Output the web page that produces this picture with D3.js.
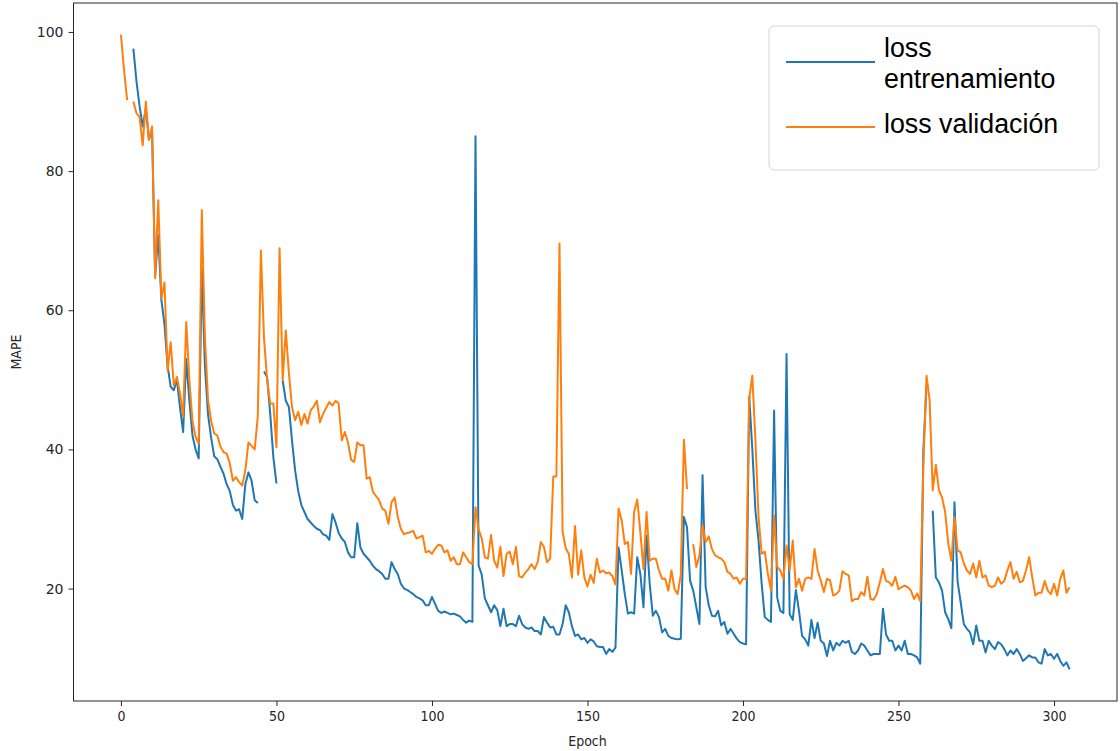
<html>
<head>
<script src="https://d3js.org/d3.v7.min.js"></script>
<style>
  body { margin: 0; background: #fff; }
  .tick text { font-family: "DejaVu Sans", sans-serif; font-size: 14px; fill: #262626; }
  .tick line { stroke: #262626; }
  .x.axis .tick text { font-stretch: condensed; }
</style>
</head>
<body>
<svg id="chart" width="1120" height="751"></svg>
<script>
// training loss per epoch (null = missing value, line breaks there)
const trainLoss = [
  null,null,null,null,97.6,92.9,89.3,86.4,89,84.5,
  86,65,70.8,61.5,58,52,49,48.5,50,46,
  42.5,53,47,42,40,38.7,66,52,45,41.7,
  39,38.6,37.5,36.5,35,34,32,31.2,31.4,30,
  35,36.7,35.5,32.7,32.3,null,51.2,50.4,45.1,38.9,
  35.1,null,49.9,47,46.1,41.3,37,34,32,31,
  30,29.5,29,28.6,28.4,27.8,27.6,27,30.7,29.5,
  28,27.2,26.7,25.2,24.5,24.5,29.4,25.9,25,24.5,
  24,23.3,22.8,22.5,22.1,21.4,21.4,23.8,22.8,22.1,
  20.7,20,19.8,19.5,19.2,18.8,18.6,18.3,17.6,17.6,
  18.8,17.8,16.8,16.5,16.7,16.5,16.3,16.4,16.2,16,
  15.5,15.1,15.4,15.2,85,23.3,22,18.6,17.6,16.6,
  17.6,16.9,14.6,17.1,14.6,14.9,14.9,14.6,16.1,14.9,
  14.4,14.2,14.4,13.9,13.9,13.4,15.9,15.1,14.4,14.5,
  13.4,13.4,14.9,17.6,16.6,14.6,13.2,13.4,12.7,12.9,
  12.2,12.7,12.4,11.7,11.6,11.6,10.6,11.3,10.9,11.5,
  25.9,22.6,19.2,16.4,16.6,16.4,24.5,22.1,17.3,27.6,
  20.7,16.1,16.8,15.9,13.7,14.2,13.2,12.9,12.8,12.7,
  12.8,30.3,28.8,21.1,19.7,17.3,14.9,36.3,20.2,17.6,
  16.1,16.0,16.8,14.7,15.2,13.5,14.2,13.5,12.8,12.3,
  12.1,12.0,47.6,40,31.2,26.9,20.7,15.9,15.5,15.2,
  45.6,18.7,16.8,16.5,53.7,16.3,15.5,19.8,16.8,13.2,
  12.7,11.8,15.5,12.9,15.1,12.5,12.1,10.3,12.5,11.1,
  12.2,11.8,12.5,12.2,12.5,10.9,10.6,11.1,12.1,11.8,
  11.1,10.4,10.6,10.6,10.6,17.1,13.4,12.5,12.5,11.1,
  11.8,11.1,12.5,10.6,10.6,10.4,10.1,9.2,40,49,
  null,31.2,21.6,20.9,19.7,16.6,15.6,14.3,32.4,21,
  18,14.9,14.2,13.7,12.0,14.7,12.5,12.5,10.8,12.5,
  11.8,11.3,12.3,12.0,11.3,10.4,11.1,10.6,11.3,10.6,
  9.6,10.0,10.4,10.1,10.1,9.4,9.2,11.3,10.4,10.6,
  9.9,10.6,9.6,8.9,9.4,8.4
];

// validation loss per epoch
const valLoss = [
  99.6,94.5,90.2,null,90.0,88.3,87.8,83.7,90.0,84.5,
  86.4,64.6,75.8,61.7,64.0,51.3,55.4,49.2,50.4,48.0,
  44.7,58.3,49.9,44.1,41.8,40.8,74.4,56.2,47.1,44.1,
  42.3,42.0,40.4,39.6,39.4,38.0,35.5,36.0,35.3,34.8,
  37.0,41.0,40.5,40.0,44.7,68.6,56.0,50.0,46.6,46.6,
  40.3,68.9,50.0,57.1,51.0,46.1,44.2,45.4,43.5,45.1,
  43.7,45.6,46.2,47.0,43.9,45.1,46.0,46.8,46.3,47.0,
  46.6,41.3,42.5,41.0,38.5,38.2,41.0,40.6,40.6,35.8,
  36.0,33.9,33.3,32.7,31.5,31.2,29.3,32.4,33.1,30.3,
  28.6,27.8,28.0,28.1,28.3,27.2,27.4,27.6,25.2,25.4,
  25.0,25.7,26.3,26.2,25.2,25.5,24.0,24.5,23.5,23.5,
  25.2,24.5,23.8,23.5,31.7,28.5,27.2,24.5,24.3,27.7,
  24.0,23.0,26.0,21.8,25.0,25.3,23.5,26.0,21.8,21.6,
  22.3,22.8,23.5,22.8,23.8,26.7,26.0,23.8,24.3,36.1,
  36.1,69.6,28.2,25.8,25.0,21.6,29.0,22.0,25.5,21.6,
  20.3,22.0,20.8,24.3,22.3,22.6,22.2,22.3,21.8,20.6,
  31.5,29.8,26.4,26.7,22.1,31.0,32.8,28.1,22.8,31.0,
  24.0,24.3,24.3,22.6,21.4,21.4,19.7,22.6,19.9,19.2,
  22.0,41.4,34.3,null,26.4,23.1,24.8,29.1,26.7,27.5,
  25.7,24.8,24.5,24.3,23.8,22.4,22.1,21.4,21.6,20.7,
  21.4,21.4,47.3,50.6,41.3,30.3,25.0,25.3,22.1,19.7,
  30.5,23.1,22.6,21.4,26.2,22.6,26.9,20.2,21.4,19.7,
  21.4,21.6,21.4,25.7,22.6,21.2,19.5,21.4,21.2,19.0,
  19.2,19.7,22.5,22.1,21.9,18.2,18.5,18.5,19.5,19.0,
  21.7,18.5,18.4,19.2,20.9,22.8,21.1,20.9,20.4,21.7,
  19.9,20.2,20.4,20.2,19.7,18.5,19.3,18.2,38.0,50.6,
  47.1,34.1,37.8,34.1,33.1,31.0,26.5,24.0,30.3,25.5,
  25.2,23.6,22.6,22.1,23.6,21.6,24.0,21.6,21.9,20.4,
  20.2,20.4,21.6,20.7,21.1,22.6,23.8,21.4,22.4,20.9,
  21.1,22.6,24.5,21.6,19.0,19.4,19.4,21.1,19.7,19.2,
  20.7,19.0,21.4,22.6,19.4,20.2
];

const epochs = d3.range(trainLoss.length);
const xTicks = [0, 50, 100, 150, 200, 250, 300];
const yTicks = [20, 40, 60, 80, 100];
const seriesNames = ["loss\nentrenamiento", "loss validación"];
const seriesColors = ["#1f77b4", "#ff7f0e"];

const svg = d3.select("#chart");
const width = +svg.attr("width");
const height = +svg.attr("height");
const margin = { top: 3, right: 3, bottom: 50, left: 73.5 };
const chartWidth = width - margin.left - margin.right;
const chartHeight = height - margin.top - margin.bottom;

// matplotlib style 5% padding on both axes
const xExt = d3.extent(epochs);
const xPad = (xExt[1] - xExt[0]) * 0.05;
const allVals = trainLoss.concat(valLoss).filter(v => v != null);
const yExt = d3.extent(allVals);
const yPad = (yExt[1] - yExt[0]) * 0.05;

const xScale = d3.scaleLinear().domain([xExt[0] - xPad, xExt[1] + xPad]).range([0, chartWidth]);
const yScale = d3.scaleLinear().domain([yExt[0] - yPad, yExt[1] + yPad]).range([chartHeight, 0]);

const g = svg.append("g").attr("transform", `translate(${margin.left},${margin.top})`);

const line = d3.line()
  .defined(d => d[1] != null)
  .x(d => xScale(d[0]))
  .y(d => yScale(d[1]));

[trainLoss, valLoss].forEach((series, i) => {
  g.append("path")
    .datum(epochs.map(e => [e, series[e]]))
    .attr("fill", "none")
    .attr("stroke", seriesColors[i])
    .attr("stroke-width", 2)
    .attr("stroke-linejoin", "round")
    .attr("d", line);
});

// axes
const xAxis = d3.axisBottom(xScale).tickValues(xTicks).tickSize(5).tickPadding(5);
g.append("g").attr("class", "x axis")
  .attr("transform", `translate(0,${chartHeight})`)
  .call(xAxis)
  .call(a => a.select(".domain").remove());

const yAxis = d3.axisLeft(yScale).tickValues(yTicks).tickSize(5).tickPadding(5);
g.append("g").attr("class", "y axis")
  .call(yAxis)
  .call(a => a.select(".domain").remove());

// frame
g.append("rect")
  .attr("width", chartWidth).attr("height", chartHeight)
  .attr("fill", "none").attr("stroke", "#262626").attr("stroke-width", 1);

svg.append("text")
  .attr("x", margin.left + xScale(150)).attr("y", 746)
  .attr("text-anchor", "middle")
  .style("font-family", "DejaVu Sans").style("font-size", "14px").style("font-stretch", "condensed")
  .attr("fill", "#262626")
  .text("Epoch");

svg.append("text")
  .attr("transform", `translate(21,${margin.top + chartHeight / 2}) rotate(-90)`)
  .attr("text-anchor", "middle")
  .style("font-family", "DejaVu Sans").style("font-size", "14px").style("font-stretch", "condensed")
  .attr("fill", "#262626")
  .text("MAPE");

// legend
const legend = svg.append("g").attr("transform", "translate(769,26)");
legend.append("rect")
  .attr("width", 330).attr("height", 144).attr("rx", 5)
  .attr("fill", "white").attr("fill-opacity", 0.8)
  .attr("stroke", "#d4d4d4");

const rowY = [36, 101];
seriesNames.forEach((name, i) => {
  legend.append("line")
    .attr("x1", 17).attr("x2", 106)
    .attr("y1", rowY[i]).attr("y2", rowY[i])
    .attr("stroke", seriesColors[i]).attr("stroke-width", 2);
  const lines = name.split("\n");
  const t = legend.append("text")
    .style("font-family", "Liberation Sans, Arial, sans-serif")
    .style("font-size", "26.8px")
    .attr("fill", "#000");
  lines.forEach((s, j) => {
    t.append("tspan")
      .attr("x", 115)
      .attr("y", lines.length > 1 ? rowY[i] - 5 + j * 31 : rowY[i] + 6)
      .text(s);
  });
});
</script>
</body>
</html>
